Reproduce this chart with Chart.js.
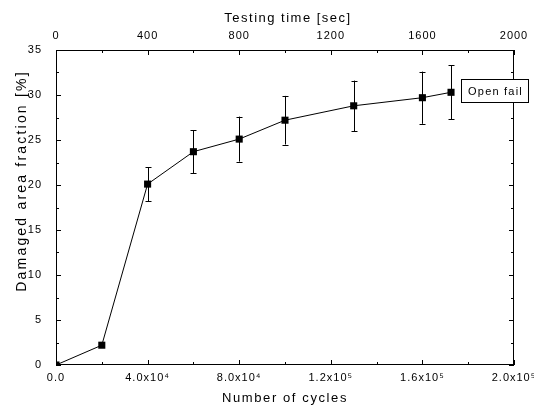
<!DOCTYPE html>
<html>
<head>
<meta charset="utf-8">
<script src="https://cdn.jsdelivr.net/npm/chart.js@4"></script>
<style>
  html, body { margin: 0; padding: 0; background: #fff; }
</style>
</head>
<body>
<canvas id="myChart" width="534" height="408"></canvas>
<script>
// данные
const cycles = [0, 20000, 40000, 60000, 80000, 100000, 130000, 160000, 172500];
const damage = [0, 2.2, 20.1, 23.7, 25.1, 27.2, 28.8, 29.7, 30.3];
const damageErr = [0, 0, 1.9, 2.4, 2.5, 2.7, 2.8, 2.9, 3.0];

const cycleTicks = [0, 40000, 80000, 120000, 160000, 200000];
const timeTicks = [0, 400, 800, 1200, 1600, 2000];
const damageTicks = [0, 5, 10, 15, 20, 25, 30, 35];

const xTitle = "Number of cycles";
const topTitle = "Testing time [sec]";
const yTitle = "Damaged area fraction [%]";
const failLabel = "Open fail";

const FONT = "'Liberation Sans', Arial, sans-serif";
const sup = { 0: "⁰", 1: "¹", 2: "²", 3: "³", 4: "⁴", 5: "⁵", 6: "⁶", 7: "⁷", 8: "⁸", 9: "⁹" };

function sciLabel(v) {
  if (v === 0) return "0.0";
  const exp = Math.floor(Math.log10(v));
  const mant = (v / Math.pow(10, exp)).toFixed(1);
  return mant + "x10" + String(exp).split("").map((d) => sup[d]).join("");
}

function setTicks(list) {
  return (scale) => {
    scale.ticks = list.map((v) => ({ value: v }));
  };
}

// засечки внутрь рамки, большие и малые
function drawTickMarks(ctx, scale, list, side, area) {
  const minors = [];
  for (let i = 0; i < list.length - 1; i++) minors.push((list[i] + list[i + 1]) / 2);
  const mark = (v, len) => {
    const p = Math.round(scale.getPixelForValue(v)) + 0.5;
    ctx.beginPath();
    if (side === "bottom") { ctx.moveTo(p, area.bottom); ctx.lineTo(p, area.bottom - len); }
    if (side === "top") { ctx.moveTo(p, area.top); ctx.lineTo(p, area.top + len); }
    if (side === "left") { ctx.moveTo(area.left, p); ctx.lineTo(area.left + len, p); }
    if (side === "right") { ctx.moveTo(area.right, p); ctx.lineTo(area.right - len, p); }
    ctx.stroke();
  };
  list.forEach((v) => mark(v, 5));
  minors.forEach((v) => mark(v, 3));
}

const framePlugin = {
  id: "frame",
  beforeDraw(chart) {
    chart.ctx.letterSpacing = "1px";
  },
  beforeDatasetsDraw(chart) {
    const { ctx, scales } = chart;
    ctx.save();
    ctx.strokeStyle = "#000";
    ctx.lineWidth = 1;
    cycles.forEach((c, i) => {
      if (!damageErr[i]) return;
      const x = Math.round(scales.x.getPixelForValue(c)) + 0.5;
      const y1 = scales.y.getPixelForValue(damage[i] + damageErr[i]);
      const y2 = scales.y.getPixelForValue(damage[i] - damageErr[i]);
      ctx.beginPath();
      ctx.moveTo(x, y1); ctx.lineTo(x, y2);
      ctx.moveTo(x - 3, Math.round(y1) + 0.5); ctx.lineTo(x + 3, Math.round(y1) + 0.5);
      ctx.moveTo(x - 3, Math.round(y2) + 0.5); ctx.lineTo(x + 3, Math.round(y2) + 0.5);
      ctx.stroke();
    });
    ctx.restore();
  },
  afterDatasetsDraw(chart) {
    const { ctx, chartArea: a, scales } = chart;
    ctx.save();
    ctx.strokeStyle = "#000";
    ctx.lineWidth = 1;
    ctx.strokeRect(a.left + 0.5, a.top + 0.5, a.right - a.left - 1, a.bottom - a.top - 1);
    drawTickMarks(ctx, scales.x, cycleTicks, "bottom", a);
    drawTickMarks(ctx, scales.x2, timeTicks, "top", a);
    drawTickMarks(ctx, scales.y, damageTicks, "left", a);
    drawTickMarks(ctx, scales.y, damageTicks, "right", a);

    // подпись у последней точки
    const last = cycles.length - 1;
    const px = scales.x.getPixelForValue(cycles[last]);
    const py = scales.y.getPixelForValue(damage[last]);
    const bx = Math.round(px + 10) + 0.5, by = Math.round(py - 13) + 0.5;
    ctx.fillStyle = "#fff";
    ctx.fillRect(bx, by, 67, 23);
    ctx.strokeRect(bx, by, 67, 23);
    ctx.fillStyle = "#000";
    ctx.font = "11px " + FONT;
    ctx.letterSpacing = "1.2px";
    ctx.textAlign = "center";
    ctx.textBaseline = "middle";
    ctx.fillText(failLabel, bx + 34, by + 12);
    ctx.restore();
  },
  afterDraw(chart) {
    const { ctx, chartArea: a } = chart;
    ctx.save();
    ctx.fillStyle = "#000";
    ctx.textAlign = "center";
    ctx.textBaseline = "middle";
    ctx.font = "13px " + FONT;
    ctx.letterSpacing = "1.6px";
    const cx = (a.left + a.right) / 2;
    ctx.fillText(xTitle, cx, 398);
    ctx.letterSpacing = "1.5px";
    ctx.fillText(topTitle, cx + 3, 18);
    ctx.font = "14px " + FONT;
    ctx.letterSpacing = "2.2px";
    ctx.translate(22, a.top + 131);
    ctx.rotate(-Math.PI / 2);
    ctx.fillText(yTitle, 0, 0);
    ctx.restore();
  },
};

const tickFont = { family: FONT, size: 11 };

new Chart(document.getElementById("myChart"), {
  type: "scatter",
  data: {
    datasets: [
      {
        data: cycles.map((c, i) => ({ x: c, y: damage[i] })),
        showLine: true,
        borderColor: "#000",
        borderWidth: 1,
        pointStyle: "rect",
        pointRadius: 5,
        pointBackgroundColor: "#000",
        pointBorderWidth: 0,
        xAxisID: "x",
        yAxisID: "y",
      },
    ],
  },
  options: {
    responsive: false,
    animation: false,
    layout: { padding: { left: 0, right: 20, top: 0, bottom: 0 } },
    plugins: { legend: { display: false }, tooltip: { enabled: false } },
    scales: {
      x: {
        type: "linear",
        position: "bottom",
        min: 0,
        max: 200000,
        afterBuildTicks: setTicks(cycleTicks),
        afterFit(s) {
          s.height = 43;
          s.paddingLeft = 0;
          s.paddingRight = 0;
        },
        grid: { display: false, drawTicks: false },
        border: { display: false },
        ticks: { color: "#000", font: tickFont, padding: 6, maxRotation: 0, autoSkip: false, callback: sciLabel },
      },
      x2: {
        type: "linear",
        axis: "x",
        position: "top",
        min: 0,
        max: 2000,
        afterBuildTicks: setTicks(timeTicks),
        afterFit(s) {
          s.height = 50;
          s.paddingLeft = 0;
          s.paddingRight = 0;
        },
        grid: { display: false, drawTicks: false },
        border: { display: false },
        ticks: { color: "#000", font: tickFont, padding: 7, maxRotation: 0, autoSkip: false, callback: (v) => String(v) },
      },
      y: {
        type: "linear",
        position: "left",
        min: 0,
        max: 35,
        afterBuildTicks: setTicks(damageTicks),
        afterFit(s) {
          s.width = 56;
          s.paddingTop = 0;
          s.paddingBottom = 0;
        },
        grid: { display: false, drawTicks: false },
        border: { display: false },
        ticks: { color: "#000", font: tickFont, padding: 14 },
      },
    },
  },
  plugins: [framePlugin],
});
</script>
</body>
</html>
